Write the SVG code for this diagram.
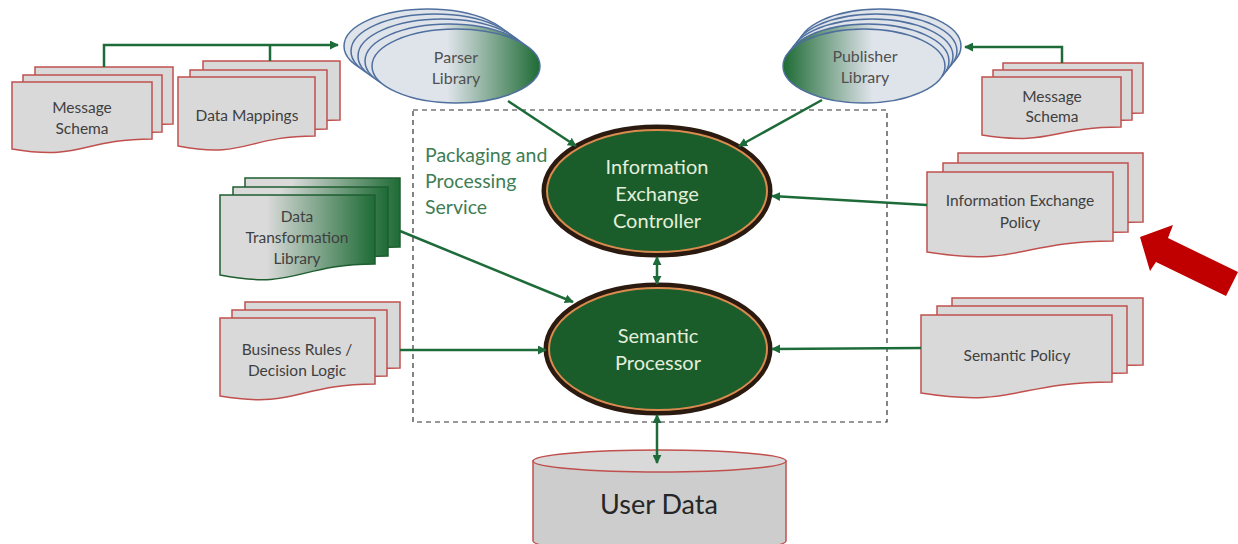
<svg xmlns="http://www.w3.org/2000/svg" width="1238" height="544" viewBox="0 0 1238 544">
<style>
.doc{fill:#d9d9d9;stroke:#c0504d;stroke-width:1.5}
.gdoc{fill:url(#gDoc);stroke:#1e5e30;stroke-width:1.5}
.lib{stroke:#4f6f9f;stroke-width:1.5}
.dt{font-family:Lato,"Open Sans",sans-serif;font-size:15.5px;fill:#404040;text-anchor:middle}
.lt{font-family:Lato,"Open Sans",sans-serif;font-size:16px;fill:#505050;text-anchor:middle}
.et{font-family:Lato,"Open Sans",sans-serif;font-size:20px;fill:#e4eedb;text-anchor:middle}
.conn{fill:none;stroke:#1e6b3a;stroke-width:2.5}
.outer{fill:#1a5d2b;stroke:#2b1a10;stroke-width:5}
.ring{fill:none;stroke:#d98a4f;stroke-width:2}
</style>
<defs>
<linearGradient id="gDoc" x1="0" y1="0" x2="1" y2="0">
<stop offset="0.3" stop-color="#dadada"/>
<stop offset="1" stop-color="#1e6b35"/>
</linearGradient>
<linearGradient id="gParser" x1="0" y1="0" x2="1" y2="0">
<stop offset="0.45" stop-color="#dfe3ea"/>
<stop offset="1" stop-color="#1e6b35"/>
</linearGradient>
<linearGradient id="gPub" x1="1" y1="0" x2="0" y2="0">
<stop offset="0.45" stop-color="#dfe3ea"/>
<stop offset="1" stop-color="#1e6b35"/>
</linearGradient>
<marker id="ah" viewBox="0 0 10 10" refX="9" refY="5" markerWidth="9" markerHeight="9" markerUnits="userSpaceOnUse" orient="auto-start-reverse">
<path d="M0,0 L10,5 L0,10 Z" fill="#1e6b3a"/>
</marker>
</defs>

<g id="packaging-service">
<rect x="413" y="110" width="474" height="312" fill="none" stroke="#333" stroke-width="1.2" stroke-dasharray="5,4"/>
<text font-family="Lato,'Open Sans',sans-serif" font-size="19.5px" fill="#3f7d55"><tspan x="425" y="162">Packaging and</tspan><tspan x="425" y="188">Processing</tspan><tspan x="425" y="214">Service</tspan></text>
</g>

<g id="message-schema-left">
<path class="doc" d="M35,67 H173 V124 C104,124 104,146 35,134 Z"/>
<path class="doc" d="M23,75 H162 V132 C92,132 92,154 23,142 Z"/>
<path class="doc" d="M12,82 H152 V139 C82,139 82,161 12,149 Z"/>
<text class="dt"><tspan x="82" y="113">Message</tspan><tspan x="82" y="134">Schema</tspan></text>
</g>

<g id="data-mappings">
<path class="doc" d="M203,61 H340 V120 C271,120 271,143 203,130 Z"/>
<path class="doc" d="M190,70 H327 V129 C258,129 258,152 190,139 Z"/>
<path class="doc" d="M178,77 H315 V136 C246,136 246,159 178,146 Z"/>
<text class="dt" x="247" y="121">Data Mappings</text>
</g>

<g id="parser-library">
<ellipse class="lib" cx="428" cy="46" rx="84" ry="37" fill="#dfe3ea"/>
<ellipse class="lib" cx="435" cy="51" rx="84" ry="37" fill="#dfe3ea"/>
<ellipse class="lib" cx="442" cy="56" rx="84" ry="37" fill="#dfe3ea"/>
<ellipse class="lib" cx="449" cy="61" rx="84" ry="37" fill="url(#gParser)"/>
<ellipse class="lib" cx="456" cy="66" rx="84" ry="37" fill="url(#gParser)"/>
<text class="lt"><tspan x="456" y="63">Parser</tspan><tspan x="456" y="84">Library</tspan></text>
</g>

<g id="publisher-library">
<ellipse class="lib" cx="880" cy="46" rx="81" ry="37" fill="#dfe3ea"/>
<ellipse class="lib" cx="876" cy="51" rx="81" ry="37" fill="#dfe3ea"/>
<ellipse class="lib" cx="872" cy="56" rx="81" ry="37" fill="#dfe3ea"/>
<ellipse class="lib" cx="868" cy="61" rx="81" ry="37" fill="url(#gPub)"/>
<ellipse class="lib" cx="864" cy="66" rx="81" ry="37" fill="url(#gPub)"/>
<text class="lt"><tspan x="865" y="62">Publisher</tspan><tspan x="865" y="83">Library</tspan></text>
</g>

<g id="message-schema-right">
<path class="doc" d="M1003,63 H1143 V113 C1073,113 1073,132 1003,121 Z"/>
<path class="doc" d="M993,70 H1132 V120 C1062,120 1062,139 993,128 Z"/>
<path class="doc" d="M982,77 H1121 V127 C1051,127 1051,146 982,135 Z"/>
<text class="dt"><tspan x="1052" y="102">Message</tspan><tspan x="1052" y="122">Schema</tspan></text>
</g>

<g id="information-exchange-policy">
<path class="doc" d="M958,153 H1143 V222 C1050,222 1050,248 958,233 Z"/>
<path class="doc" d="M943,163 H1128 V232 C1035,232 1035,258 943,243 Z"/>
<path class="doc" d="M927,172 H1113 V241 C1020,241 1020,267 927,252 Z"/>
<text class="dt"><tspan x="1020" y="206">Information Exchange</tspan><tspan x="1020" y="228">Policy</tspan></text>
</g>

<g id="red-arrow">
<polygon points="1140,237 1173,225 1168,238 1238,272 1226,296 1156,262 1150,271" fill="#c00000"/>
</g>

<g id="semantic-policy">
<path class="doc" d="M952,298 H1143 V365 C1047,365 1047,391 952,376 Z"/>
<path class="doc" d="M937,306 H1127 V373 C1032,373 1032,399 937,384 Z"/>
<path class="doc" d="M921,315 H1112 V382 C1016,382 1016,408 921,393 Z"/>
<text class="dt" x="1017" y="361">Semantic Policy</text>
</g>

<g id="data-transformation-library">
<path class="gdoc" d="M245,178 H400 V247 C322,247 322,273 245,258 Z"/>
<path class="gdoc" d="M233,187 H388 V256 C310,256 310,282 233,267 Z"/>
<path class="gdoc" d="M220,195 H375 V264 C297,264 297,290 220,275 Z"/>
<text class="dt"><tspan x="297" y="222">Data</tspan><tspan x="297" y="243">Transformation</tspan><tspan x="297" y="264">Library</tspan></text>
</g>

<g id="business-rules">
<path class="doc" d="M245,302 H400 V368 C322,368 322,393 245,380 Z"/>
<path class="doc" d="M232,310 H387 V376 C309,376 309,401 232,388 Z"/>
<path class="doc" d="M220,318 H375 V384 C297,384 297,409 220,396 Z"/>
<text class="dt"><tspan x="297" y="355">Business Rules /</tspan><tspan x="297" y="376">Decision Logic</tspan></text>
</g>

<g id="information-exchange-controller">
<ellipse class="outer" cx="657" cy="191" rx="113" ry="64"/>
<ellipse class="ring" cx="657" cy="191" rx="110" ry="61"/>
<text class="et"><tspan x="657" y="174">Information</tspan><tspan x="657" y="201">Exchange</tspan><tspan x="657" y="228">Controller</tspan></text>
</g>

<g id="semantic-processor">
<ellipse class="outer" cx="658" cy="349" rx="112" ry="64"/>
<ellipse class="ring" cx="658" cy="349" rx="109" ry="61"/>
<text class="et"><tspan x="658" y="343">Semantic</tspan><tspan x="658" y="370">Processor</tspan></text>
</g>

<g id="user-data">
<path d="M533,461 V541 A126.5,11 0 0 0 786,541 V461 Z" fill="#cdcdcd" stroke="#c0504d" stroke-width="1.5"/>
<ellipse cx="659.5" cy="461" rx="126.5" ry="11" fill="#d9d9d9" stroke="#c0504d" stroke-width="1.5"/>
<text x="659" y="514" font-family="Lato,'Open Sans',sans-serif" font-size="27px" fill="#262626" text-anchor="middle">User Data</text>
</g>

<g id="connectors">
<polyline class="conn" points="104,67 104,45 338,45" marker-end="url(#ah)"/>
<line class="conn" x1="270" y1="61" x2="270" y2="45"/>
<polyline class="conn" points="1062,63 1062,47 965,47" marker-end="url(#ah)"/>
<line class="conn" x1="508" y1="101" x2="576" y2="146" marker-end="url(#ah)"/>
<line class="conn" x1="822" y1="100" x2="739" y2="146" marker-end="url(#ah)"/>
<line class="conn" x1="927" y1="205" x2="772" y2="196" marker-end="url(#ah)"/>
<line class="conn" x1="400" y1="231" x2="573" y2="302" marker-end="url(#ah)"/>
<line class="conn" x1="400" y1="350" x2="546" y2="350" marker-end="url(#ah)"/>
<line class="conn" x1="921" y1="348" x2="772" y2="349" marker-end="url(#ah)"/>
<line class="conn" x1="657" y1="257" x2="657" y2="284" marker-start="url(#ah)" marker-end="url(#ah)"/>
<line class="conn" x1="657" y1="415" x2="657" y2="463" marker-start="url(#ah)" marker-end="url(#ah)"/>
</g>
</svg>
